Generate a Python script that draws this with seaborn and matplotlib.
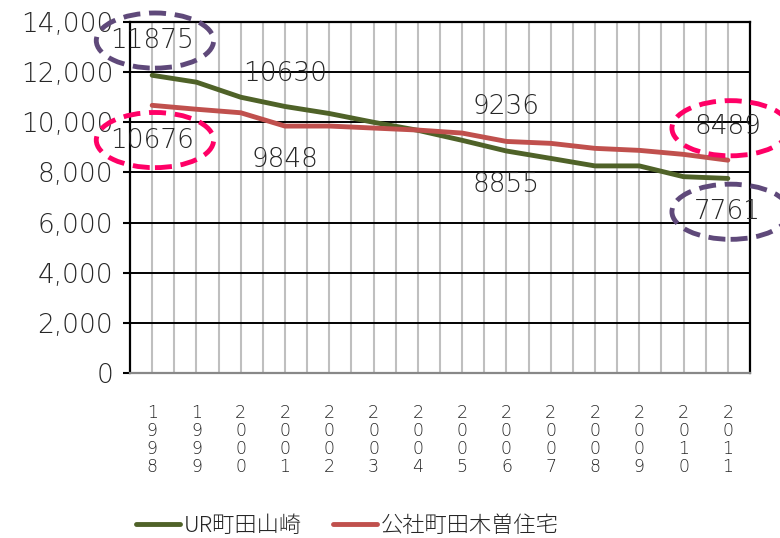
import numpy as np
import pandas as pd
import matplotlib
matplotlib.use("Agg")
import matplotlib.pyplot as plt
from matplotlib.patches import Ellipse
from matplotlib.transforms import offset_copy
import seaborn as sns

# data
years = list(range(1998, 2012))
ur_yamazaki = [11875, 11600, 11000, 10630, 10350, 10000, 9680, 9280, 8855, 8560, 8260, 8260, 7830, 7761]
kosha_kiso = [10676, 10520, 10380, 9848, 9850, 9770, 9690, 9570, 9236, 9160, 8960, 8880, 8720, 8489]
series_names = ["UR町田山崎", "公社町田木曽住宅"]
yticks = [0, 2000, 4000, 6000, 8000, 10000, 12000, 14000]

df = pd.DataFrame({"year": years * 2,
                   "value": ur_yamazaki + kosha_kiso,
                   "series": [series_names[0]] * len(years) + [series_names[1]] * len(years)})

sns.set_style("white")
plt.rcParams['font.family'] = ['DejaVu Sans', 'Noto Sans CJK JP']
plt.rcParams['font.weight'] = 'light'

fig = plt.figure(figsize=(7.8, 5.38), dpi=100)
ax = fig.add_axes([0.1667, 0.3067, 0.7948, 0.6524])

sns.lineplot(data=df, x="year", y="value", hue="series", ax=ax,
             palette=["#4F6228", "#C0504D"], linewidth=3.5, legend=False)

ax.set_xlim(years[0] - 0.5, years[-1] + 0.5)
ax.set_ylim(0, 14000)
ax.set_xlabel("")
ax.set_ylabel("")

ax.set_yticks(yticks)
ax.set_yticklabels([f"{v:,}" for v in yticks], fontsize=19)
ax.set_xticks(years)
ax.set_xticklabels(["\n".join(str(y)) for y in years], fontsize=12.5, linespacing=1.0)
ax.set_xticks(np.arange(years[0] - 0.5, years[-1] + 1, 1.0), minor=True)
ax.tick_params(axis="x", which="major", length=0, pad=22)
ax.tick_params(axis="x", which="minor", length=3, color="#888888", width=1.2)
ax.tick_params(axis="y", length=5, width=1.5, color="black", pad=7, left=True)

ax.grid(False)
for x in np.arange(years[0], years[-1] + 0.6, 0.5):
    ax.axvline(x, color="#BFBFBF", lw=1.5, zorder=0)
for y in yticks[1:]:
    ax.axhline(y, color="black", lw=1.4, zorder=0.5)

for side in ["left", "right", "top"]:
    ax.spines[side].set_color("black")
    ax.spines[side].set_linewidth(1.6)
ax.spines["bottom"].set_color("#888888")
ax.spines["bottom"].set_linewidth(1.6)

# data labels
label_idx = [0, 3, 8, 13]
green_off = [25, 24, -24, -24]
red_off = [-25, -24, 25, 24]
for i, dy in zip(label_idx, green_off):
    ax.annotate(str(ur_yamazaki[i]), (years[i], ur_yamazaki[i]), xytext=(0, dy),
                textcoords="offset points", ha="center", va="center", fontsize=19,
                annotation_clip=False)
for i, dy in zip(label_idx, red_off):
    ax.annotate(str(kosha_kiso[i]), (years[i], kosha_kiso[i]), xytext=(0, dy),
                textcoords="offset points", ha="center", va="center", fontsize=19,
                annotation_clip=False)

# dashed ellipses around first/last labels
circles = [(0, ur_yamazaki, 25, "#5F497A"), (0, kosha_kiso, -25, "#FF0066"),
           (13, kosha_kiso, 23, "#FF0066"), (13, ur_yamazaki, -24, "#5F497A")]
for i, vals, dy, col in circles:
    tr = offset_copy(ax.transData, fig=fig, x=2, y=dy, units="points")
    e = Ellipse((years[i], vals[i]), 2.65, 2200, transform=tr, fill=False,
                edgecolor=col, lw=3.5, ls=(0, (3.5, 1.8)), clip_on=False, zorder=5)
    ax.add_patch(e)

handles = [plt.Line2D([], [], color="#4F6228", lw=3.5),
           plt.Line2D([], [], color="#C0504D", lw=3.5)]
fig.legend(handles, series_names, loc="center", bbox_to_anchor=(0.445, 0.022),
           ncol=2, frameon=False, handlelength=2.0,
           handletextpad=0.15, columnspacing=1.4,
           prop={"family": ["Noto Sans CJK JP", "DejaVu Sans"], "size": 16})

fig.savefig("out.png", dpi=100)
